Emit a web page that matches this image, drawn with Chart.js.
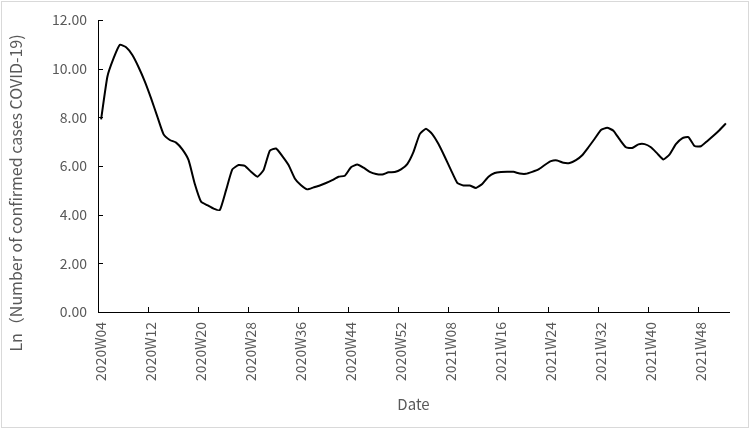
<!DOCTYPE html>
<html>
<head>
<meta charset="utf-8">
<script src="https://cdn.jsdelivr.net/npm/chart.js@4.4.1/dist/chart.umd.min.js"></script>
<style>
  body { margin: 0; background: #fff; }
  #wrap { width: 750px; height: 430px; }
</style>
</head>
<body>
<div id="wrap"><canvas id="casesChart" width="750" height="430"></canvas></div>
<script>
// week labels 2020W04 .. 2021W52
const firstWeeks = { 2020: 4, 2021: 1 };
const lastWeeks = { 2020: 52, 2021: 52 };
const categories = [];
[2020, 2021].forEach(year => {
  for (let w = firstWeeks[year]; w <= lastWeeks[year]; w++) {
    categories.push(year + 'W' + String(w).padStart(2, '0'));
  }
});

// Ln of weekly confirmed cases
const lnCases = [
  7.92, 9.67, 10.43, 10.98, 10.88, 10.56, 10.06, 9.47, 8.78, 8.03,
  7.30, 7.07, 6.96, 6.68, 6.24, 5.26, 4.53, 4.39, 4.25, 4.19,
  5.01, 5.86, 6.04, 6.01, 5.76, 5.56, 5.83, 6.63, 6.72, 6.41,
  6.04, 5.49, 5.21, 5.04, 5.12, 5.20, 5.30, 5.42, 5.56, 5.60,
  5.95, 6.06, 5.93, 5.76, 5.67, 5.65, 5.74, 5.75, 5.86, 6.08,
  6.58, 7.31, 7.53, 7.31, 6.90, 6.38, 5.83, 5.31, 5.20, 5.20,
  5.10, 5.26, 5.56, 5.71, 5.75, 5.76, 5.76, 5.69, 5.68, 5.76,
  5.86, 6.04, 6.20, 6.23, 6.13, 6.12, 6.24, 6.44, 6.77, 7.12,
  7.48, 7.57, 7.45, 7.09, 6.77, 6.74, 6.89, 6.90, 6.77, 6.52,
  6.27, 6.48, 6.90, 7.14, 7.19, 6.82, 6.81, 7.02, 7.24, 7.48,
  7.75
];

const yTicks = [0, 2, 4, 6, 8, 10, 12];
const labelEvery = 8;

const fontFamily = '"Noto Sans CJK SC", "Noto Sans", sans-serif';
const textGray = '#595959';

// inward tick marks, y title and outer frame
const decorPlugin = {
  id: 'decor',
  afterDraw(chart) {
    const ctx = chart.ctx;
    const xs = chart.scales.x;
    const ys = chart.scales.y;
    const area = chart.chartArea;
    ctx.save();
    ctx.strokeStyle = '#000';
    ctx.lineWidth = 1;
    ctx.beginPath();
    const half = (xs.getPixelForValue(1) - xs.getPixelForValue(0)) / 2;
    xs.ticks.forEach(t => {
      const px = Math.round(xs.getPixelForValue(t.value) - half) + 0.5;
      ctx.moveTo(px, area.bottom);
      ctx.lineTo(px, area.bottom - 5);
    });
    ys.ticks.forEach(t => {
      const py = Math.round(ys.getPixelForValue(t.value)) + 0.5;
      ctx.moveTo(area.left, py);
      ctx.lineTo(area.left + 5, py);
    });
    ctx.stroke();

    // y axis title
    ctx.fillStyle = textGray;
    ctx.font = '16px ' + fontFamily;
    ctx.textAlign = 'center';
    ctx.textBaseline = 'middle';
    ctx.translate(16, 193);
    ctx.rotate(-Math.PI / 2);
    ctx.fillText('Ln（Number of confirmed cases COVID-19)', 0, 0);
    ctx.restore();

    // frame
    ctx.save();
    ctx.strokeStyle = '#d9d9d9';
    ctx.lineWidth = 1;
    ctx.strokeRect(1.5, 1.5, 747, 426);
    ctx.restore();
  }
};

const ctx = document.getElementById('casesChart').getContext('2d');
const casesChart = new Chart(ctx, {
  type: 'line',
  data: {
    labels: categories,
    datasets: [{
      label: 'Ln cases',
      data: lnCases,
      borderColor: '#000',
      borderWidth: 2,
      pointRadius: 0,
      tension: 0.15,
      fill: false
    }]
  },
  options: {
    responsive: false,
    animation: false,
    layout: { padding: { top: 20, right: 21, bottom: 17, left: 0 } },
    plugins: {
      legend: { display: false },
      tooltip: { enabled: false }
    },
    scales: {
      x: {
        type: 'category',
        offset: true,
        afterBuildTicks: scale => {
          scale.ticks = scale.ticks.filter(t => t.value % labelEvery === 0);
        },
        afterFit: scale => { scale.height = 101; },
        grid: { display: false, drawTicks: false },
        border: { display: true, color: '#000', width: 1 },
        ticks: {
          autoSkip: false,
          maxRotation: 90,
          minRotation: 90,
          padding: 10,
          color: textGray,
          font: { family: fontFamily, size: 14 }
        },
        title: {
          display: true,
          text: 'Date',
          color: textGray,
          padding: 0,
          font: { family: fontFamily, size: 15 }
        }
      },
      y: {
        min: 0,
        max: 12,
        afterBuildTicks: scale => {
          scale.ticks = yTicks.map(v => ({ value: v }));
        },
        afterFit: scale => { scale.width = 98; },
        grid: { display: false, drawTicks: false },
        border: { display: true, color: '#000', width: 1 },
        ticks: {
          padding: 11,
          color: textGray,
          font: { family: fontFamily, size: 14 },
          callback: v => v.toFixed(2)
        }
      }
    }
  },
  plugins: [decorPlugin]
});
</script>
</body>
</html>
